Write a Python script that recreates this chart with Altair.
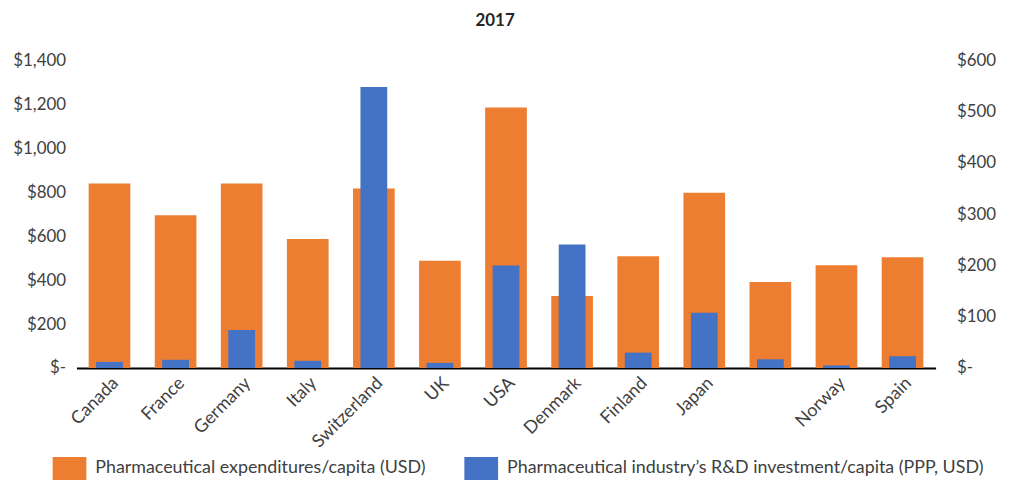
import altair as alt
import pandas as pd

categories = ["Canada", "France", "Germany", "Italy", "Switzerland", "UK", "USA",
              "Denmark", "Finland", "Japan", " ", "Norway", "Spain"]
expenditures = [840, 695, 840, 587, 817, 488, 1186, 328, 509, 798, 391, 468, 504]
rd_investment = [12, 16, 74, 14, 548, 10, 200, 241, 30, 108, 17, 5, 23]
left_ticks = [0, 200, 400, 600, 800, 1000, 1200, 1400]
right_ticks = [0, 100, 200, 300, 400, 500, 600]
series_names = ["Pharmaceutical expenditures/capita (USD)",
                "Pharmaceutical industry\u2019s R&D investment/capita (PPP, USD)"]
series_colors = ["#ED7D31", "#4472C4"]

df = pd.DataFrame({"country": categories, "exp": expenditures, "rd": rd_investment})

FONT = "Lato"
TXT = "#404040"

color_scale = alt.Scale(domain=series_names, range=series_colors)
label_expr = "datum.value == 0 ? '$-\u00a0\u00a0\u00a0' : '$' + format(datum.value, ',')"

x_enc = alt.X("country:N", sort=categories,
              scale=alt.Scale(domain=categories, paddingInner=0, paddingOuter=0),
              axis=alt.Axis(title=None, labelAngle=-45, labelFontSize=18, labelFont=FONT,
                            labelColor=TXT, ticks=False, domainColor="#000000",
                            domainWidth=2, labelPadding=6))

orange = alt.Chart(df).transform_calculate(
    series=f"'{series_names[0]}'"
).mark_bar(size=42).encode(
    x=x_enc,
    y=alt.Y("exp:Q", scale=alt.Scale(domain=[0, 1400], nice=False),
            axis=alt.Axis(title=None, values=left_ticks, labelExpr=label_expr, grid=False,
                          domain=False, ticks=False, labelFontSize=17, labelFont=FONT,
                          labelColor=TXT, labelPadding=11)),
    color=alt.Color("series:N", scale=color_scale,
                    legend=alt.Legend(title=None, orient="none", direction="horizontal",
                                      legendX=-24, legendY=394, labelFontSize=18,
                                      labelFont=FONT, labelColor=TXT,
                                      symbolType="M-1,-0.68H1V0.68H-1Z", symbolSize=1156,
                                      symbolStrokeWidth=0, labelOffset=9,
                                      columnPadding=38, labelLimit=600)),
)

blue = alt.Chart(df).transform_calculate(
    series=f"'{series_names[1]}'"
).mark_bar(size=27).encode(
    x=x_enc,
    y=alt.Y("rd:Q", scale=alt.Scale(domain=[0, 600], nice=False),
            axis=alt.Axis(title=None, orient="right", values=right_ticks, labelExpr=label_expr,
                          grid=False, domain=False, ticks=False, labelFontSize=17,
                          labelFont=FONT, labelColor=TXT, labelPadding=21)),
    color=alt.Color("series:N", scale=color_scale),
)

chart = alt.layer(orange, blue).resolve_scale(y="independent").properties(
    width=866, height=310,
    autosize=alt.AutoSizeParams(type="none"),
    padding={"left": 69, "top": 51, "right": 73, "bottom": 111},
    title=alt.Title("2017", fontSize=17, fontWeight="bold", font=FONT, color="#262626",
                    offset=22, dx=-11),
).configure_view(stroke=None)

chart.save("out.html", embed_options={"renderer": "svg", "actions": False})
